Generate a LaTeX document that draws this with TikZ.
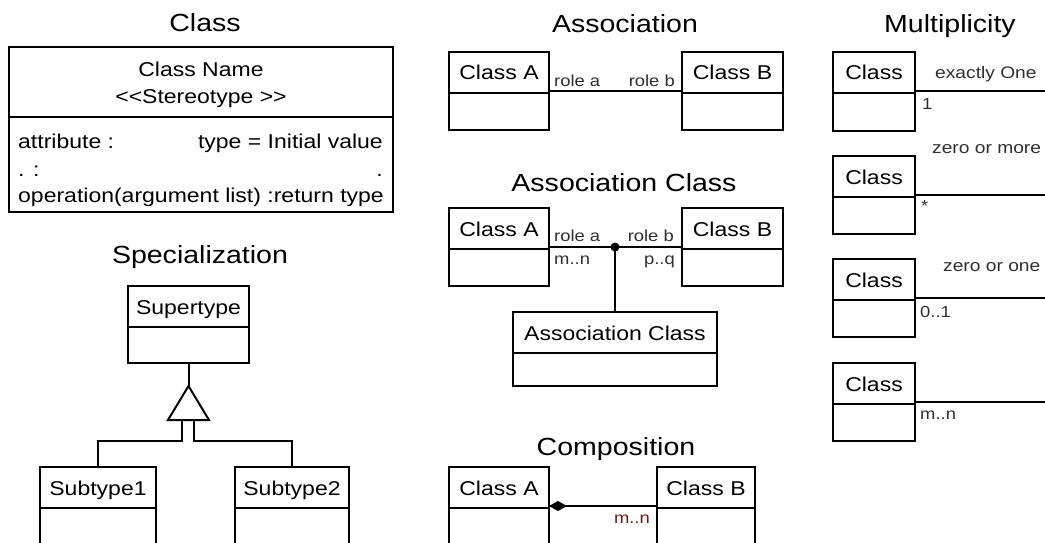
\documentclass[tikz,border=0pt]{standalone}
\usepackage{fontspec}
\setmainfont{Liberation Sans}[FakeStretch=1.15]
\definecolor{labelgray}{RGB}{48,48,48}
\definecolor{compred}{RGB}{112,24,24}
\tikzset{
  umlhead/.style={draw, line width=2pt, inner sep=0pt, outer sep=0pt,
    minimum height=41pt, text height=17pt, text depth=2pt,
    font=\fontsize{20}{24}\selectfont, anchor=north west},
  umlbody/.style={draw, line width=2pt, inner sep=0pt, outer sep=0pt, anchor=north},
  heading/.style={font=\fontsize{24.8}{30}\selectfont, inner sep=0pt, anchor=base},
  bodytext/.style={font=\fontsize{20}{24}\selectfont, inner sep=0pt},
  rolelabel/.style={font=\fontsize{16}{19}\selectfont, inner sep=0pt, text=labelgray},
  desclabel/.style={font=\fontsize{16.7}{20}\selectfont, inner sep=0pt, text=labelgray},
  conn/.style={line width=2pt},
}
% class box: name, x, y (top left), width, label, compartment height
\newcommand\umlcls[6]{%
  \node[umlhead, minimum width=#4] (#1) at (#2,#3) {#5};
  \node[umlbody, minimum width=#4, minimum height=#6] (#1-b) at (#1.south) {};
}
\begin{document}
\begin{tikzpicture}[x=1pt, y=-1pt]
\path[use as bounding box] (0,0) rectangle (1045,543);
\clip (0,0) rectangle (1045,543);
\fill[white] (0,0) rectangle (1045,543);

% ---------- Class ----------
\node[heading] (tclass) at (205,32) {Class};
\node[umlbody, anchor=north west, minimum width=384, minimum height=70] (cls) at (9,47) {};
\node[umlbody, minimum width=384, minimum height=95] (cls-b) at (cls.south) {};
\node[bodytext, anchor=base] (cname) at (201,77) {Class Name};
\node[bodytext, anchor=base] (cster) at (201,103) {<{}<Stereotype >{}>};
\node[bodytext, anchor=base west] (cattr) at (18,148) {attribute :};
\node[bodytext, anchor=base east] (ctype) at (383,148) {type = Initial value};
\node[bodytext, anchor=base west] (cdots) at (18,176) {. :};
\node[bodytext, anchor=base east] (cdot) at (383,176) {.};
\node[bodytext, anchor=base west] (coper) at (18,202) {operation(argument list) :return type};

% ---------- Specialization ----------
\node[heading] (tspec) at (200,263) {Specialization};
\umlcls{sup}{128}{286}{121}{Supertype}{36}
\umlcls{subA}{40}{467}{116}{Subtype1}{80}
\umlcls{subB}{235}{467}{114}{Subtype2}{80}
\coordinate (apex) at ([yshift=-23pt]sup-b.south);
\draw[conn] (sup-b.south) -- (apex);
\draw[conn, fill=white] (apex) -- ++(-20.5,34) -- ++(41,0) -- cycle;
\draw[conn] ([xshift=-7pt,yshift=-34pt]apex) -- ++(0,21) -| (subA.north);
\draw[conn] ([xshift=5pt,yshift=-34pt]apex) -- ++(0,21) -| (subB.north);

% ---------- Association ----------
\node[heading] (tassoc) at (625,33) {Association};
\umlcls{asA}{449}{52}{100}{Class A}{37}
\umlcls{asB}{682}{52}{101}{Class B}{37}
\draw[conn] ([yshift=2pt]asA.south east) -- ([yshift=2pt]asB.south west);
\node[rolelabel, anchor=base west] (asra) at (554,87) {role a};
\node[rolelabel, anchor=base east] (asrb) at (675,87) {role b};

% ---------- Association Class ----------
\node[heading] (tacls) at (624,191) {Association Class};
\umlcls{acA}{449}{208}{100}{Class A}{37}
\umlcls{acB}{682}{208}{101}{Class B}{37}
\umlcls{acC}{513}{312}{204}{Association Class}{33}
\coordinate (dot) at ([yshift=2pt]acA.south -| acC.north);
\draw[conn] ([yshift=2pt]acA.south east) -- ([yshift=2pt]acB.south west);
\draw[conn] (dot) -- (acC.north);
\fill (dot) circle (4.5pt);
\node[rolelabel, anchor=base west] (acra) at (554,241) {role a};
\node[rolelabel, anchor=base east] (acrb) at (674,241) {role b};
\node[rolelabel, anchor=base west] (acma) at (554,264) {m..n};
\node[rolelabel, anchor=base east] (acmb) at (675,264) {p..q};

% ---------- Composition ----------
\node[heading] (tcomp) at (616,455) {Composition};
\umlcls{coA}{449}{467}{100}{Class A}{80}
\umlcls{coB}{657}{467}{98}{Class B}{80}
\coordinate (whole) at ([yshift=2pt]coA.south east);
\draw[conn] (whole) -- ([yshift=2pt]coB.south west);
\fill (whole) -- ++(9,-5) -- ++(9,5) -- ++(-9,5) -- cycle;
\node[rolelabel, text=compred, anchor=base east] (com) at (650,523) {m..n};

% ---------- Multiplicity ----------
\node[heading] (tmult) at (950,33) {Multiplicity};
\coordinate (edge) at (1050,0);
\umlcls{mA}{833}{52}{82}{Class}{38}
\umlcls{mB}{833}{156}{82}{Class}{37}
\umlcls{mC}{833}{259}{82}{Class}{37}
\umlcls{mD}{833}{363}{82}{Class}{37}
\draw[conn] ([yshift=2pt]mA.south east) -- ([yshift=2pt]mA.south east -| edge);
\draw[conn] ([yshift=2pt]mB.south east) -- ([yshift=2pt]mB.south east -| edge);
\draw[conn] ([yshift=2pt]mC.south east) -- ([yshift=2pt]mC.south east -| edge);
\draw[conn] ([yshift=2pt]mD.south east) -- ([yshift=2pt]mD.south east -| edge);
\node[desclabel, anchor=base west] (mAt) at (935,79) {exactly One};
\node[rolelabel, anchor=base west] (mAm) at (922,110) {1};
\node[desclabel, anchor=base west] (mBt) at (932,153) {zero or more};
\node[rolelabel, anchor=base west] (mBm) at (921,211) {*};
\node[desclabel, anchor=base west] (mCt) at (943,271) {zero or one};
\node[rolelabel, anchor=base west] (mCm) at (920,317) {0..1};
\node[rolelabel, anchor=base west] (mDm) at (920,419) {m..n};
\end{tikzpicture}
\end{document}
